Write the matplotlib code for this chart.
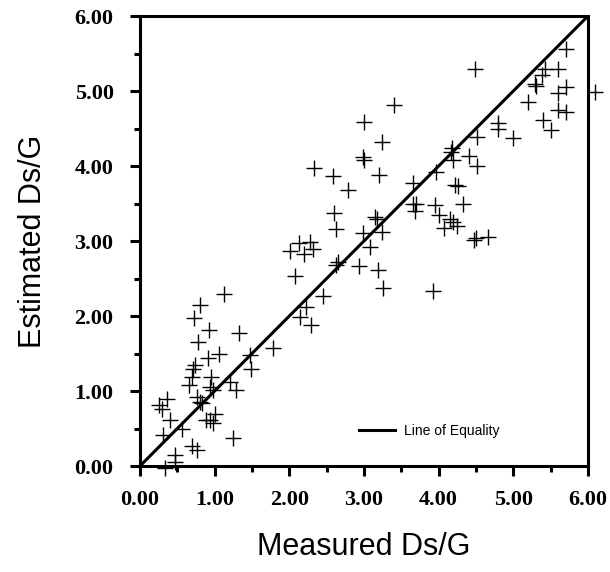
import matplotlib
matplotlib.use("Agg")
import matplotlib.pyplot as plt
from matplotlib.ticker import MultipleLocator, FormatStrFormatter

# Measured vs estimated Ds/G
measured = [
    0.25, 0.30, 0.36, 0.40, 0.31, 0.56, 0.33, 0.47, 0.47, 0.69,
    0.76, 0.89, 0.94, 0.98, 1.00, 1.25, 0.76, 0.80, 0.83, 0.65,
    0.69, 0.95, 0.94, 0.98, 1.20, 1.29, 0.71, 0.74, 0.91, 1.06,
    0.78, 0.93, 1.33, 0.72, 0.80, 1.13, 1.47, 1.49, 1.78,
    2.14, 2.29, 2.23, 2.45, 2.07, 2.01, 2.13, 2.28, 2.32, 2.19,
    2.62, 2.65, 2.93, 2.99, 3.08, 3.19, 3.26, 3.93, 3.24, 3.15,
    3.17, 2.63, 2.60, 2.79, 2.58, 2.33, 3.20, 2.99, 3.00, 3.24,
    3.00, 3.40,
    3.66, 3.97, 3.66, 3.70, 3.68, 3.95, 4.00, 4.15, 4.19, 4.07,
    4.24, 4.33, 4.47, 4.50, 4.66, 4.22, 4.26, 4.18, 4.17, 4.19,
    4.41, 4.51, 4.51, 4.49, 4.80, 4.80, 5.00, 5.20, 5.29, 5.30,
    5.38, 5.43, 5.60, 5.70, 5.60, 5.70, 5.60, 5.70, 5.40, 5.50,
    6.09,
]
estimated = [
    0.81, 0.76, 0.89, 0.61, 0.41, 0.50, -0.03, 0.06, 0.15, 0.27,
    0.21, 0.61, 0.61, 0.58, 0.70, 0.37, 0.92, 0.86, 0.84, 1.08,
    1.19, 1.19, 1.05, 1.01, 1.12, 1.01, 1.30, 1.35, 1.44, 1.50,
    1.65, 1.81, 1.78, 1.97, 2.15, 2.29, 1.48, 1.30, 1.58,
    1.99, 1.88, 2.12, 2.27, 2.54, 2.87, 2.97, 2.99, 2.90, 2.83,
    2.68, 2.72, 2.67, 3.11, 2.92, 2.62, 2.38, 2.34, 3.12, 3.32,
    3.29, 3.16, 3.38, 3.68, 3.87, 3.98, 3.88, 4.12, 4.08, 4.32,
    4.59, 4.81,
    3.78, 3.92, 3.50, 3.50, 3.40, 3.48, 3.35, 3.30, 3.26, 3.17,
    3.20, 3.50, 3.02, 3.04, 3.06, 3.75, 3.73, 4.24, 4.19, 4.08,
    4.13, 4.00, 4.39, 5.30, 4.57, 4.50, 4.37, 4.85, 5.10, 5.07,
    5.22, 5.30, 5.30, 5.56, 4.97, 5.06, 4.75, 4.72, 4.62, 4.48,
    4.99,
]
equality = [0.0, 6.0]

fig = plt.figure(figsize=(6.1, 5.72), dpi=100)
ax = fig.add_axes([0.2295, 0.1853, 0.7344, 0.7867])

ax.plot(equality, equality, color="black", linewidth=2.2, label="Line of Equality")
ax.plot(measured, estimated, linestyle="none", marker="+", markersize=11.5,
        markeredgewidth=1.0, color="black", clip_on=False)

ax.set_xlim(0, 6)
ax.set_ylim(0, 6)
ax.xaxis.set_major_locator(MultipleLocator(1))
ax.yaxis.set_major_locator(MultipleLocator(1))
ax.xaxis.set_minor_locator(MultipleLocator(0.5))
ax.yaxis.set_minor_locator(MultipleLocator(0.5))
ax.xaxis.set_major_formatter(FormatStrFormatter("%.2f"))
ax.yaxis.set_major_formatter(FormatStrFormatter("%.2f"))

for sp in ax.spines.values():
    sp.set_linewidth(2.2)
ax.tick_params(which="major", direction="out", length=7, width=2.2)
ax.tick_params(which="minor", direction="out", length=4.5, width=2.2)
ax.tick_params(axis="x", which="major", pad=10)
ax.tick_params(axis="y", which="major", pad=12)
for lab in ax.get_xticklabels() + ax.get_yticklabels():
    lab.set_family("Liberation Serif")
    lab.set_fontweight("bold")
    lab.set_fontsize(16)

ax.set_xlabel("Measured Ds/G", family="Liberation Sans", fontsize=22, labelpad=16)
ax.set_ylabel("Estimated Ds/G", family="Liberation Sans", fontsize=22, labelpad=19)

ax.legend(loc="lower left", bbox_to_anchor=(0.46, 0.035), frameon=False,
          prop={"family": "Liberation Sans", "size": 10}, handlelength=2.6,
          handletextpad=0.7)

fig.savefig("out.png", dpi=100)
